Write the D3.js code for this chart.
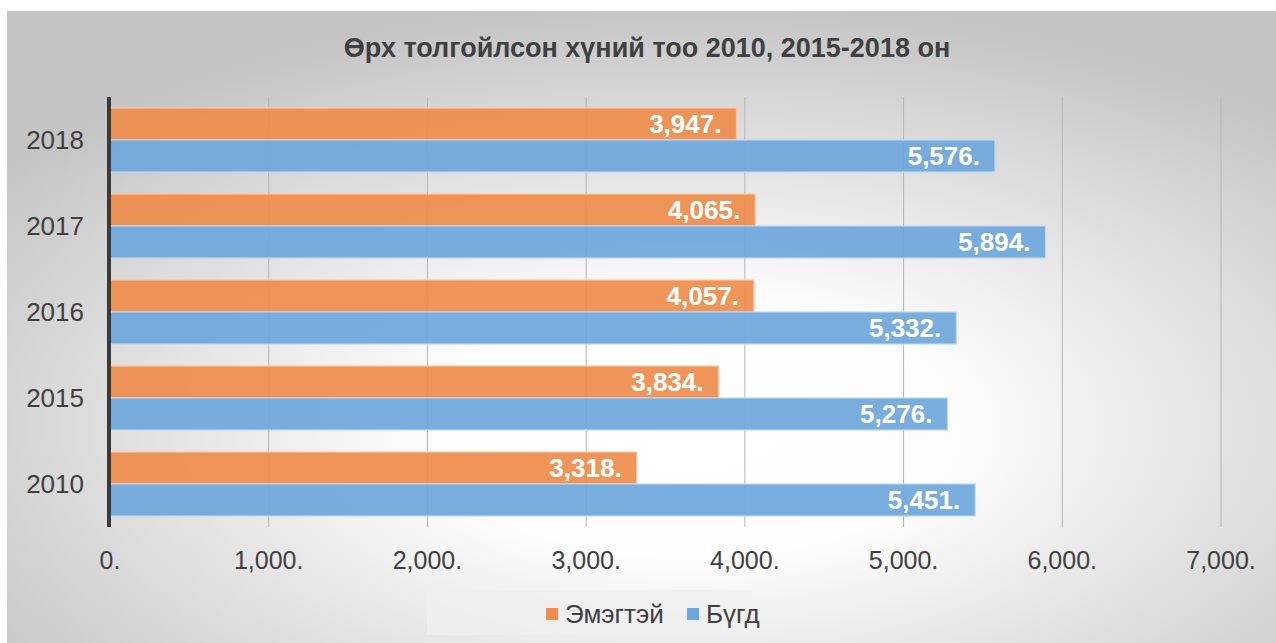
<!DOCTYPE html>
<html>
<head>
<meta charset="utf-8">
<script src="https://cdn.jsdelivr.net/npm/d3@7"></script>
<style>
  body { margin:0; background:#fff; }
  svg { display:block; font-family:"Liberation Sans", Arial, sans-serif; }
</style>
</head>
<body>
<div id="chart"></div>
<script>
// data
const years = ["2018", "2017", "2016", "2015", "2010"];
const seriesNames = ["Эмэгтэй", "Бүгд"];
const female = [3947, 4065, 4057, 3834, 3318];
const total = [5576, 5894, 5332, 5276, 5451];
const xTicks = [0, 1000, 2000, 3000, 4000, 5000, 6000, 7000];
const colors = ["#EE8D4D", "#6FA7DB"];

function draw() {
    const width = 1276, height = 643;
    const margin = {top:97, bottom:116, left:110, right:55};

    const svg = d3.select("#chart").append("svg")
        .attr("width", width)
        .attr("height", height);

    // background gradient
    const defs = svg.append("defs");
    const grad = defs.append("radialGradient")
        .attr("id", "bg")
        .attr("cx", "0.54").attr("cy", "0.66")
        .attr("r", "0.68");
    grad.append("stop").attr("offset", "0").attr("stop-color", "#ffffff");
    grad.append("stop").attr("offset", "0.3").attr("stop-color", "#fdfdfd");
    grad.append("stop").attr("offset", "1").attr("stop-color", "#c4c4c4");

    svg.append("rect")
        .attr("x", 7).attr("y", 11)
        .attr("width", width - 7).attr("height", height - 11)
        .attr("fill", "url(#bg)");
    svg.append("line") // thin top edge
        .attr("x1", 7).attr("x2", width)
        .attr("y1", 11.5).attr("y2", 11.5)
        .attr("stroke", "#c8c8c8");

    // scales
    let xScale = d3.scaleLinear()
        .domain([0, 7000])
        .range([margin.left, 1221]);
    let yScale = d3.scaleBand()
        .domain(years)
        .range([margin.top, height - margin.bottom])
        .paddingInner(0.256)
        .paddingOuter(0.128);
    let inner = d3.scaleBand()
        .domain(seriesNames)
        .range([0, yScale.bandwidth()]);

    // gridlines
    svg.append("g")
        .selectAll("line")
        .data(xTicks.slice(1))
        .enter().append("line")
        .attr("x1", d => xScale(d)).attr("x2", d => xScale(d))
        .attr("y1", margin.top).attr("y2", height - margin.bottom)
        .attr("stroke", "#b5b5b5")
        .attr("stroke-width", 1);

    // bars
    const rows = years.map((y, i) => ({year:y, values:[female[i], total[i]]}));
    const fmt = d => d3.format(",")(d) + ".";
    const groups = svg.append("g").selectAll("g")
        .data(rows)
        .enter().append("g")
        .attr("transform", d => `translate(0,${yScale(d.year)})`);
    groups.selectAll("rect")
        .data(d => d.values.map((v, k) => ({name:seriesNames[k], value:v, k:k})))
        .enter().append("rect")
        .attr("x", xScale(0))
        .attr("y", d => inner(d.name))
        .attr("width", d => xScale(d.value) - xScale(0))
        .attr("height", inner.bandwidth())
        .attr("fill", d => colors[d.k])
        .attr("fill-opacity", 0.93)
        .attr("stroke", d => d.k == 0 ? "#f9c8a4" : "#bcd6ef")
        .attr("stroke-width", 1.2);
    groups.selectAll("text")
        .data(d => d.values.map((v, k) => ({name:seriesNames[k], value:v})))
        .enter().append("text")
        .text(d => fmt(d.value))
        .attr("x", d => xScale(d.value) - 15)
        .attr("y", d => inner(d.name) + inner.bandwidth()/2 + 9)
        .attr("text-anchor", "end")
        .attr("fill", "#ffffff")
        .style("font-size", "26px")
        .style("font-weight", "bold");

    // y axis line
    svg.append("line")
        .attr("x1", margin.left - 1).attr("x2", margin.left - 1)
        .attr("y1", margin.top).attr("y2", height - margin.bottom)
        .attr("stroke", "#3a3a3a")
        .attr("stroke-width", 4);

    // y labels
    svg.append("g").selectAll("text")
        .data(years)
        .enter().append("text")
        .text(d => d)
        .attr("x", 84)
        .attr("y", d => yScale(d) + yScale.bandwidth()/2 + 8.5)
        .attr("text-anchor", "end")
        .attr("fill", "#404040")
        .style("font-size", "26px");

    // x tick labels
    svg.append("g").selectAll("text")
        .data(xTicks)
        .enter().append("text")
        .text(d => fmt(d))
        .attr("x", d => xScale(d))
        .attr("y", 569)
        .attr("text-anchor", "middle")
        .attr("fill", "#404040")
        .style("font-size", "25px");

    // title
    svg.append("text")
        .text("Өрх толгойлсон хүний тоо 2010, 2015-2018 он")
        .attr("x", 647).attr("y", 57)
        .attr("text-anchor", "middle")
        .attr("fill", "#404040")
        .style("font-size", "27px")
        .style("font-weight", "bold");

    // legend
    const legend = svg.append("g");
    legend.append("rect")
        .attr("x", 427).attr("y", 590)
        .attr("width", 325).attr("height", 45)
        .attr("fill", "#efefef")
        .attr("fill-opacity", 0.85);
    const legX = [546, 687];
    seriesNames.forEach((name, k) => {
        legend.append("rect")
            .attr("x", legX[k]).attr("y", 608)
            .attr("width", 12).attr("height", 12)
            .attr("fill", colors[k]);
        legend.append("text")
            .text(name)
            .attr("x", legX[k] + 19)
            .attr("y", 623)
            .attr("fill", "#404040")
            .style("font-size", "26px");
    });
}

draw();
</script>
</body>
</html>
